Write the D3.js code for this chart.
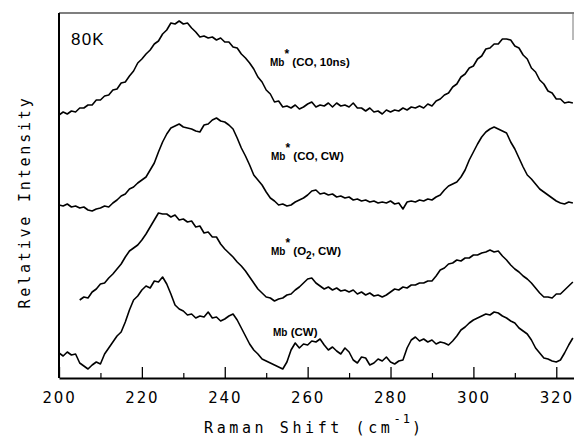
<!DOCTYPE html>
<html>
<head>
<meta charset="utf-8">
<script src="https://cdn.jsdelivr.net/npm/d3@7"></script>
<style>
html,body{margin:0;padding:0;background:#fff;}
svg{display:block;}
</style>
</head>
<body>
<svg id="chart" width="574" height="439"></svg>
<script>
// ---- data ----
const xMajorTicks = [200, 220, 240, 260, 280, 300, 320];
const xMinorTicks = [210, 230, 250, 270, 290, 310];
const seriesLabels = ["Mb* (CO, 10ns)", "Mb* (CO, CW)", "Mb* (O2, CW)", "Mb (CW)"];
const tempLabel = "80K";

const co10nsStart = 200;
const co10ns = [263,266,264,267,266,270,270,273,273,278,278,282,283,288,289,295,296,302,307,315,
  319,324,328,334,337,344,348,355,354,357,354,355,350,346,341,342,340,341,338,340,
  336,336,331,330,324,320,315,309,301,296,288,284,
  276,277,271,272,270,273,269,271,274,276,271,273,272,275,271,275,272,273,271,275,
  270,270,267,270,266,267,264,268,266,268,267,270,268,271,270,272,270,274,272,
  277,279,283,285,291,294,301,304,310,312,319,322,329,330,334,334,339,339,338,332,
  330,323,319,310,306,298,294,287,285,279,279,275,276,275];

const coCWStart = 200;
const coCW = [173,172,174,171,172,170,171,168,167,169,170,172,171,175,178,182,184,189,191,195,
  198,201,208,215,226,236,244,250,252,254,251,250,249,247,246,253,254,258,260,257,
  256,253,249,240,230,222,213,203,198,193,186,180,177,173,174,172,173,176,178,180,
  183,187,188,184,185,183,184,181,182,180,181,178,179,177,178,176,177,175,176,175,
  177,174,175,169,176,177,176,178,177,179,178,181,183,188,192,194,196,201,208,218,
  226,234,241,246,249,251,249,247,245,236,229,220,211,203,199,194,189,186,183,180,
  177,175,174,176,175];

const o2CWStart = 205;
const o2CW = [78,81,80,86,89,94,95,100,104,109,114,121,127,130,133,138,144,151,158,165,
  164,164,161,163,158,159,156,157,151,152,145,146,141,141,134,129,125,121,116,112,
  107,101,95,89,85,81,80,77,79,80,83,84,88,91,95,99,100,95,92,89,
  91,88,90,87,88,86,88,84,86,83,85,82,83,81,83,86,89,88,91,90,
  93,93,95,95,97,97,102,108,110,114,115,118,117,120,120,123,123,125,126,128,
  126,127,122,118,113,109,106,102,99,95,90,85,81,81,80,84,84,88,92,96];

const mbCWStart = 200;
const mbCW = [25,22,26,23,24,15,12,9,13,16,14,24,30,36,42,46,56,68,78,82,
  88,92,90,97,96,101,94,84,73,69,67,63,64,60,62,61,66,60,61,57,
  59,62,64,58,50,42,34,28,24,19,17,15,13,11,9,16,28,35,30,34,
  33,37,36,39,33,28,31,27,24,30,26,18,15,21,20,13,15,19,17,21,
  16,14,17,18,30,38,41,37,39,36,38,34,36,35,33,37,42,48,51,55,
  58,60,62,64,63,66,65,62,60,57,55,50,47,44,38,30,25,20,19,17,
  16,18,25,33,40];

// ---- layout ----
const svg = d3.select("#chart");
const mL = 59, mR = 577, mT = 13, mB = 378;
const x = d3.scaleLinear().domain([200, 325]).range([mL, mR]);
const y = d3.scaleLinear().domain([0, 365]).range([mB, mT]);

function toPoints(start, vals) { return vals.map((v, i) => [start + i, v]); }
const line = d3.line().x(d => x(d[0])).y(d => y(d[1]));

const series = [
  toPoints(co10nsStart, co10ns),
  toPoints(coCWStart, coCW),
  toPoints(o2CWStart, o2CW),
  toPoints(mbCWStart, mbCW)
];

svg.append("defs").append("clipPath").attr("id", "clip")
  .append("rect").attr("x", mL).attr("y", 0).attr("width", 574 - mL).attr("height", mB);

svg.append("g").attr("clip-path", "url(#clip)")
  .selectAll("path").data(series).join("path")
  .attr("d", line)
  .attr("fill", "none")
  .attr("stroke", "#000")
  .attr("stroke-width", 1.6)
  .attr("stroke-linejoin", "round");

// frame
svg.append("line").attr("x1", mL).attr("x2", 574).attr("y1", mT).attr("y2", mT)
  .attr("stroke", "#555").attr("stroke-width", 1.4);
svg.append("line").attr("x1", 573).attr("x2", 573).attr("y1", mT).attr("y2", 40)
  .attr("stroke", "#777").attr("stroke-width", 1);
svg.append("line").attr("x1", mL).attr("x2", mL).attr("y1", mT).attr("y2", mB)
  .attr("stroke", "#000").attr("stroke-width", 2);

// x axis
const gx = svg.append("g").attr("transform", `translate(0,${mB})`)
  .call(d3.axisBottom(x).tickValues(xMajorTicks).tickSizeInner(-11).tickSizeOuter(0).tickPadding(14));
gx.select(".domain").attr("stroke", "#000").attr("stroke-width", 2);
gx.selectAll(".tick line").attr("stroke", "#000").attr("stroke-width", 1.3);
gx.selectAll(".tick text")
  .attr("font-family", "'DejaVu Sans', sans-serif")
  .attr("font-size", 15).attr("letter-spacing", "1.8px").attr("fill", "#000");

const gxm = svg.append("g").attr("transform", `translate(0,${mB})`)
  .call(d3.axisBottom(x).tickValues(xMinorTicks).tickSizeInner(-5).tickSizeOuter(0).tickFormat(""));
gxm.select(".domain").remove();
gxm.selectAll(".tick line").attr("stroke", "#000").attr("stroke-width", 1.2);

// axis titles
const xt = svg.append("text").attr("x", 204).attr("y", 433)
  .attr("font-family", "'DejaVu Sans Mono', monospace").attr("font-size", 15)
  .attr("letter-spacing", "3.6px").attr("fill", "#000");
xt.append("tspan").text("Raman Shift (cm");
xt.append("tspan").attr("dy", -10).attr("font-size", 12).attr("letter-spacing", "2px").text("-1");
xt.append("tspan").attr("dy", 10).text(")");

svg.append("text")
  .attr("transform", "translate(30,202) rotate(-90)")
  .attr("text-anchor", "middle")
  .attr("font-family", "'DejaVu Sans Mono', monospace").attr("font-size", 15)
  .attr("letter-spacing", "2.8px").attr("fill", "#000")
  .text("Relative Intensity");

// temperature label
svg.append("text").attr("x", 71).attr("y", 45)
  .attr("font-family", "'Liberation Sans', Arial, sans-serif").attr("font-size", 17)
  .attr("letter-spacing", "1.2px").attr("fill", "#000").text(tempLabel);

// series labels
const labelPos = [[270, 66], [271, 160], [271, 255], [273, 336]];
function drawLabel(txt, px, py) {
  const t = svg.append("text").attr("x", px).attr("y", py)
    .attr("font-family", "'Liberation Sans', Arial, sans-serif").attr("font-size", 11.5)
    .attr("font-weight", "bold").attr("fill", "#000");
  const star = txt.indexOf("*");
  const head = star >= 0 ? txt.slice(0, star) : txt.split(" ")[0];
  const rest = star >= 0 ? txt.slice(star + 1) : txt.slice(head.length);
  t.append("tspan").attr("font-size", 10).text(head);
  if (star >= 0) {
    t.append("tspan").attr("dy", -8).attr("font-size", 12).text("*");
    t.append("tspan").attr("dy", 8).text(" ");
  }
  if (rest.includes("O2")) {
    const i = rest.indexOf("O2");
    t.append("tspan").text(rest.slice(0, i + 1));
    t.append("tspan").attr("dy", 4).attr("font-size", 10).text("2");
    t.append("tspan").attr("dy", -4).text(rest.slice(i + 2));
  } else {
    t.append("tspan").text(rest);
  }
}
seriesLabels.forEach((s, i) => drawLabel(s, labelPos[i][0], labelPos[i][1]));
</script>
</body>
</html>
